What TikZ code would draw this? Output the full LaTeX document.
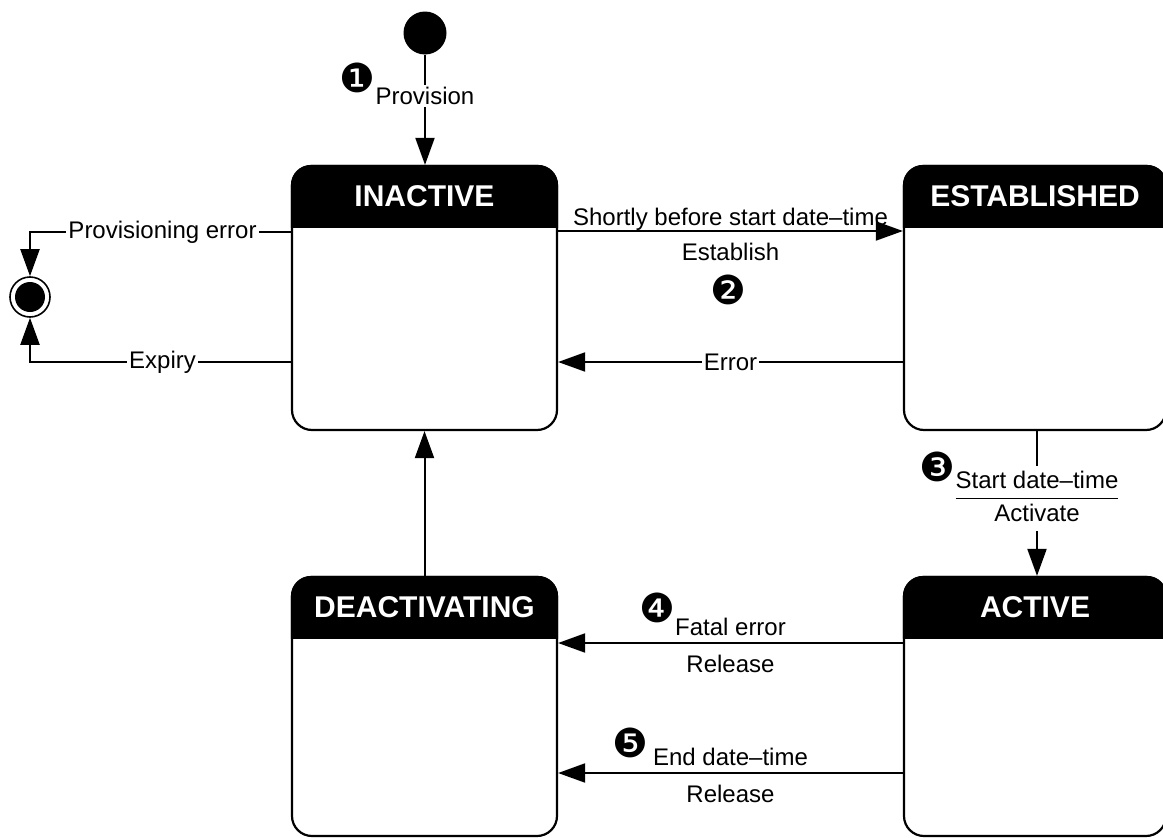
\documentclass[tikz,border=0pt]{standalone}
\usepackage{fontspec}
\setmainfont{Liberation Sans}
\newfontfamily\dingfont{DejaVu Sans}
\usetikzlibrary{arrows.meta}
\newcommand\mkstate[6]{%
  \node[statebox, minimum width=#4pt, minimum height=#5pt] (#1) at (#2,#3) {};
  \begin{scope}
    \clip (#1.north west) rectangle ([yshift=-63pt]#1.north east);
    \fill[rounded corners=20pt] (#1.north west) rectangle (#1.south east);
  \end{scope}
  \node[titletext] (#1-title) at ([yshift=-31.5pt]#1.north) {#6};
}
\begin{document}
\begin{tikzpicture}[x=1pt,y=-1pt,
  statebox/.style={draw, line width=2.2pt, rounded corners=20pt, inner sep=0pt, fill=white},
  titletext/.style={text=white, font=\fontsize{30}{34}\selectfont\bfseries, inner sep=0pt},
  conn/.style={line width=2pt, -{Triangle[length=27pt,width=19pt]}},
  lbl/.style={fill=white, inner sep=2pt, font=\fontsize{24}{28}\selectfont},
  txt/.style={inner sep=0pt, font=\fontsize{24}{28}\selectfont},
  num/.style={inner sep=0pt, font=\dingfont\fontsize{40}{40}\selectfont}
]
\useasboundingbox (0,0) rectangle (1163,838);

\mkstate{inactive}{424.5}{298}{265}{264}{INACTIVE}
\mkstate{established}{1035}{298}{262}{264}{ESTABLISHED}
\mkstate{deactivating}{424.5}{706.5}{265}{259}{DEACTIVATING}
\mkstate{active}{1035}{706.5}{262}{259}{ACTIVE}

% initial and final pseudo-states
\node[circle, fill, minimum size=43pt, inner sep=0pt] (init) at (425,33) {};
\node[circle, draw, line width=1.6pt, minimum size=40pt, inner sep=0pt] (final) at (30,297) {};
\fill (final.center) circle (15pt);

% 1 Provision
\draw[conn] (init.south) -- node[lbl, pos=0.375] (provlbl) {Provision} (init.south |- inactive.north);
\node[num] (n1) at (357,78) {❶};

% Provisioning error / Expiry
\draw[conn] (inactive.west |- 0,232) -| node[lbl, pos=0.246] (perr) {Provisioning error} (final.north);
\draw[conn] (inactive.west |- 0,362) -| node[lbl, pos=0.246] (expiry) {Expiry} (final.south);

% 2 Establish
\draw[conn] (inactive.east |- 0,231) -- node[txt, anchor=base, yshift=6pt] (shortly) {Shortly before start date–time}
  node[txt, anchor=base, yshift=-29pt] (establish) {Establish} (established.west |- 0,231);
\node[num] (n2) at (728,290) {❷};

% Error
\draw[conn] (established.west |- 0,362) -- node[lbl] (error) {Error} (inactive.east |- 0,362);

% 3 Activate
\setlength\arrayrulewidth{1pt}
\renewcommand\arraystretch{1.15}
\draw[conn] (established.south -| 1037,0) -- node[fill=white, inner sep=0pt, pos=0.466, font=\fontsize{24}{28}\selectfont] (activate)
  {\begin{tabular}{@{}c@{}}Start date–time\\\hline Activate\end{tabular}} (active.north -| 1037,0);
\node[num] (n3) at (937,467) {❸};

% 4 Fatal error
\draw[conn] (active.west |- 0,643) -- node[txt, anchor=base, yshift=8pt] (fatal) {Fatal error}
  node[txt, anchor=base, yshift=-29pt] (release1) {Release} (deactivating.east |- 0,643);
\node[num] (n4) at (657,608) {❹};

% 5 End date-time
\draw[conn] (active.west |- 0,773) -- node[txt, anchor=base, yshift=8pt] (enddt) {End date–time}
  node[txt, anchor=base, yshift=-29pt] (release2) {Release} (deactivating.east |- 0,773);
\node[num] (n5) at (630,743) {❺};

% Deactivating -> Inactive
\draw[conn] (deactivating.north) -- (inactive.south);
\end{tikzpicture}
\end{document}
